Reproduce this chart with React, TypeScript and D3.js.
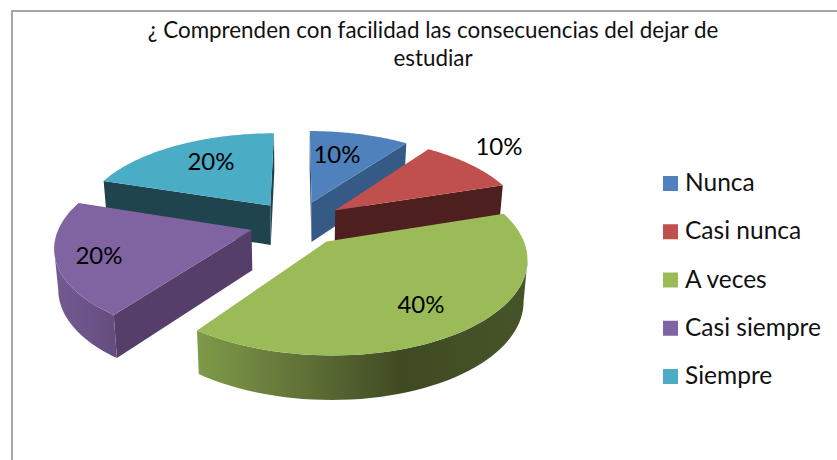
import React from "react";
import * as d3 from "d3";

const categories = ["Nunca", "Casi nunca", "A veces", "Casi siempre", "Siempre"];
const values = [10, 10, 40, 20, 20];
const percentLabels = ["10%", "10%", "40%", "20%", "20%"];
const topColors = ["#4f81bd", "#c0504d", "#9bbb59", "#8064a2", "#4bacc6"];
const cutColors = ["#355a86", "#4e1f1f", "#4e1f1f", "#563e6b", "#1f444e"];
const titleLines = ["¿ Comprenden con facilidad las consecuencias del dejar de", "estudiar"];
const paintOrder = [4, 0, 3, 1, 2];

const FONT = "Lato, 'Open Sans', sans-serif";
const CX = 297.5, CY = 223, RX = 191, RY = 89, K = 0.16, EXPLODE = 0.25, DEPTH = 40, SHRINK = 0.983;
const labelXY: [number, number][] = [[337, 163], [499, 155], [421, 313], [99, 264], [211, 170]];

type P = [number, number];
const project = (X: number, Y: number): P => {
  const w = 1 + K * Y;
  return [CX + (RX * X) / w, CY - (RY * Y) / w];
};
const depthAt = (X: number, Y: number): P => {
  const w = 1 + K * Y;
  const [x, y] = project(X, Y);
  return [CX + (x - CX) * SHRINK, y + DEPTH / Math.sqrt(w)];
};

const arcs = d3.pie<number>().sort(null).value((d) => d)(values);
const line = d3.line<P>();

function buildSlice(i: number) {
  const a = arcs[i];
  const mid = (a.startAngle + a.endAngle) / 2;
  const ox = EXPLODE * Math.sin(mid), oy = EXPLODE * Math.cos(mid);
  const angles = d3.range(0, 61).map((t) => a.startAngle + ((a.endAngle - a.startAngle) * t) / 60);
  const plane = angles.map((t) => [ox + Math.sin(t), oy + Math.cos(t)] as P);
  const rimTop = plane.map(([x, y]) => project(x, y));
  const rimBot = plane.map(([x, y]) => depthAt(x, y));
  const apexTop = project(ox, oy);
  const apexBot = depthAt(ox, oy);
  const top = line([apexTop, ...rimTop])! + "Z";
  const midPt = rimTop[30];
  const cuts: string[] = [];
  const tryCut = (idx: number) => {
    const p = rimTop[idx];
    const dx = p[0] - apexTop[0], dy = p[1] - apexTop[1];
    const crossDown = dx;
    const crossIn = dx * (midPt[1] - apexTop[1]) - dy * (midPt[0] - apexTop[0]);
    if (crossDown * crossIn < 0) cuts.push(line([apexTop, p, rimBot[idx], apexBot])! + "Z");
  };
  tryCut(0);
  tryCut(60);
  const vis = d3.range(0, 60).filter((j) => rimTop[j + 1][0] < rimTop[j][0]);
  let wall: string | null = null;
  let wallX: [number, number] = [0, 0];
  if (vis.length) {
    const from = vis[0], to = vis[vis.length - 1] + 1;
    const t = rimTop.slice(from, to + 1);
    const b = rimBot.slice(from, to + 1).reverse();
    wall = line([...t, ...b])! + "Z";
    wallX = [rimTop[to][0], rimTop[from][0]];
  }
  return { top, cuts, wall, wallX };
}

export default function App() {
  const slices = values.map((_, i) => buildSlice(i));
  return (
    <svg width={837} height={460} style={{ position: "absolute", left: 0, top: 0, background: "#fff" }}>
      <defs>
        <linearGradient id="wall2" gradientUnits="userSpaceOnUse" x1={slices[2].wallX[0]} x2={slices[2].wallX[1]} y1={0} y2={0}>
          <stop offset="0" stopColor="#7f9a48" />
          <stop offset="0.28" stopColor="#64773a" />
          <stop offset="0.62" stopColor="#3f4a22" />
          <stop offset="1" stopColor="#475428" />
        </linearGradient>
        <linearGradient id="wall3" gradientUnits="userSpaceOnUse" x1={slices[3].wallX[0]} x2={slices[3].wallX[1]} y1={0} y2={0}>
          <stop offset="0" stopColor="#735a92" />
          <stop offset="1" stopColor="#664d80" />
        </linearGradient>
      </defs>
      <path d="M12 460V11H837" fill="none" stroke="#a6a6a6" strokeWidth={2} />
      {titleLines.map((t, i) => (
        <text key={i} x={433} y={38 + i * 28} textAnchor="middle" fontFamily={FONT} fontSize={22.4} fill="#111">{t}</text>
      ))}
      {paintOrder.map((i) => {
        const s = slices[i];
        return (
          <g key={i}>
            {s.cuts.map((d, j) => <path key={j} d={d} fill={cutColors[i]} />)}
            {s.wall && <path d={s.wall} fill={`url(#wall${i})`} />}
            <path d={s.top} fill={topColors[i]} />
          </g>
        );
      })}
      {percentLabels.map((t, i) => (
        <text key={i} x={labelXY[i][0]} y={labelXY[i][1]} textAnchor="middle" fontFamily={FONT} fontSize={24} fill="#000">{t}</text>
      ))}
      {categories.map((c, i) => (
        <g key={c}>
          <rect x={663} y={176 + i * 48.25} width={15} height={15} fill={topColors[i]} />
          <text x={685} y={191 + i * 48.25} fontFamily={FONT} fontSize={24.5} fill="#111">{c}</text>
        </g>
      ))}
    </svg>
  );
}
